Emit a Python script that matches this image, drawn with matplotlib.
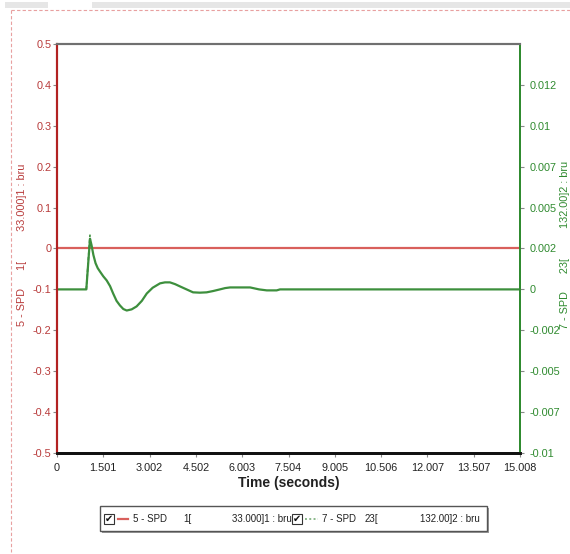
import matplotlib
matplotlib.use("Agg")
import matplotlib.pyplot as plt
from matplotlib.patches import Rectangle
from matplotlib.lines import Line2D

# Datos
t_max = 15.008
x_ticks = [t_max * i / 10 for i in range(11)]
x_labels = ["0", "1.501", "3.002", "4.502", "6.003", "7.504", "9.005",
            "10.506", "12.007", "13.507", "15.008"]
left_ticks = [-0.5, -0.4, -0.3, -0.2, -0.1, 0, 0.1, 0.2, 0.3, 0.4, 0.5]
left_labels = ["-0.5", "-0.4", "-0.3", "-0.2", "-0.1", "0", "0.1", "0.2", "0.3", "0.4", "0.5"]
right_ticks = [-0.01, -0.0075, -0.005, -0.0025, 0, 0.0025, 0.005, 0.0075, 0.01, 0.0125]
right_labels = ["-0.01", "-0.007", "-0.005", "-0.002", "0", "0.002", "0.005", "0.007", "0.01", "0.012"]

# Serie 5 - SPD (eje izquierdo)
red_t = [0, t_max]
red_v = [0, 0]

# Serie 7 - SPD (eje derecho)
green_t = [0, 0.95, 1.07, 1.12, 1.18, 1.25, 1.32, 1.39, 1.50, 1.61, 1.72, 1.82, 1.93,
           2.04, 2.15, 2.26, 2.42, 2.58, 2.75, 2.91, 3.10, 3.34, 3.50, 3.66, 3.83,
           3.99, 4.20, 4.41, 4.63, 4.85, 5.06, 5.28, 5.45, 5.61, 6.26, 6.55, 6.80,
           7.12, 7.23, t_max]
green_v = [0, 0, 0.0031, 0.0027, 0.0021, 0.0016, 0.0013, 0.0011, 0.0008, 0.00055,
           0.0002, -0.00025, -0.0007, -0.00098, -0.0012, -0.00129, -0.00122,
           -0.00104, -0.0007, -0.00025, 0.0001, 0.00037, 0.00043, 0.00043, 0.00032,
           0.00018, 0.0, -0.00018, -0.0002, -0.00018, -0.0001, 0, 0.00008, 0.00012,
           0.00012, 0.0, -0.00006, -0.00006, 0, 0]
spike_t = [0.95, 1.07]
spike_v = [0, 0.00335]

RED = "#b83a3a"
RED_LINE = "#d9605c"
GREEN = "#2f8a2f"
GREEN_LINE = "#3d8f3d"

plt.rcParams["font.family"] = ["Liberation Sans", "DejaVu Sans"]

fig = plt.figure(figsize=(5.7, 5.54), dpi=100)
ax = fig.add_axes([0.1, 0.1823, 0.8123, 0.7383])
ax2 = ax.twinx()

ax.plot(red_t, red_v, color=RED_LINE, lw=1.6)
ax2.plot(green_t, green_v, color=GREEN_LINE, lw=1.6)
ax2.plot(spike_t, spike_v, color=GREEN_LINE, lw=1.2, ls=(0, (2, 1.5)))

ax.set_xlim(0, t_max)
ax.set_ylim(-0.5, 0.5)
ax2.set_ylim(-0.01, 0.015)

ax.set_xticks(x_ticks)
ax.set_xticklabels(x_labels)
ax.set_yticks(left_ticks)
ax.set_yticklabels(left_labels)
ax2.set_yticks(right_ticks)
ax2.set_yticklabels(right_labels)

ax.tick_params(axis="x", labelsize=7.8, length=3, color="#888888", labelcolor="#222222", pad=4)
ax.tick_params(axis="y", labelsize=7.8, length=3, color="#888888", labelcolor=RED, pad=1)
ax2.tick_params(axis="y", labelsize=7.8, length=3, color="#888888", labelcolor=GREEN, pad=4)

for a in (ax, ax2):
    a.spines["left"].set_color("#b22222")
    a.spines["left"].set_linewidth(1.5)
    a.spines["right"].set_color(GREEN)
    a.spines["right"].set_linewidth(1.3)
    a.spines["top"].set_color("#707070")
    a.spines["top"].set_linewidth(1.5)
    a.spines["bottom"].set_color("#111111")
    a.spines["bottom"].set_linewidth(2)

ax.set_xlabel("Time (seconds)", fontsize=10, fontweight="bold", labelpad=2, color="#222222")

fig.text(0.039, 0.558, "5 - SPD      1[          33.000]1 : bru", rotation=90,
         color=RED, fontsize=7.8, ha="center", va="center")
fig.text(0.992, 0.558, "7 - SPD      23[          132.00]2 : bru", rotation=90,
         color=GREEN, fontsize=7.8, ha="center", va="center")

# Borde punteado y barras superiores
W, H = 570, 554
def fx(px):
    return px / W
def fy(py):
    return 1 - py / H

fig.add_artist(Line2D([fx(11), fx(11)], [fy(10), fy(552)], color="#e8a0a0", lw=0.8, ls=(0, (3, 2))))
fig.add_artist(Line2D([fx(11), 1], [fy(10), fy(10)], color="#e8a0a0", lw=0.8, ls=(0, (3, 2))))
fig.add_artist(Rectangle((fx(5), fy(8)), fx(43), 6 / H, color="#e6e6e6", lw=0))
fig.add_artist(Rectangle((fx(92), fy(8)), fx(478), 6 / H, color="#e6e6e6", lw=0))

# Leyenda personalizada
fig.add_artist(Rectangle((fx(102), fy(533)), fx(387), 25 / H, facecolor="#9a9a9a", edgecolor="none"))
fig.add_artist(Rectangle((fx(100), fy(531)), fx(387), 25 / H, facecolor="white", edgecolor="#555555", lw=1))
ly = fy(518.5)
for bx in (104, 292):
    fig.add_artist(Rectangle((fx(bx), fy(524)), fx(10), 10 / H, facecolor="white", edgecolor="#333333", lw=0.8))
    fig.text(fx(bx + 5), ly, "\u2714", fontsize=7, ha="center", va="center", family="DejaVu Sans", color="#111111")
fig.add_artist(Line2D([fx(118), fx(128)], [ly, ly], color=RED_LINE, lw=1.6))
fig.add_artist(Line2D([fx(305), fx(318)], [ly, ly], color="#8ab88a", lw=1.4, ls=(0, (1, 1.2))))
fs = 7
fig.text(fx(133), ly, "5 - SPD", fontsize=fs, va="center", color="#222222")
fig.text(fx(183), ly, "1[", fontsize=fs, va="center", color="#222222")
fig.text(fx(232), ly, "33.000]1 : bru", fontsize=fs, va="center", color="#222222")
fig.text(fx(322), ly, "7 - SPD", fontsize=fs, va="center", color="#222222")
fig.text(fx(365), ly, "23[", fontsize=fs, va="center", color="#222222")
fig.text(fx(420), ly, "132.00]2 : bru", fontsize=fs, va="center", color="#222222")

fig.savefig("out.png", dpi=100)
